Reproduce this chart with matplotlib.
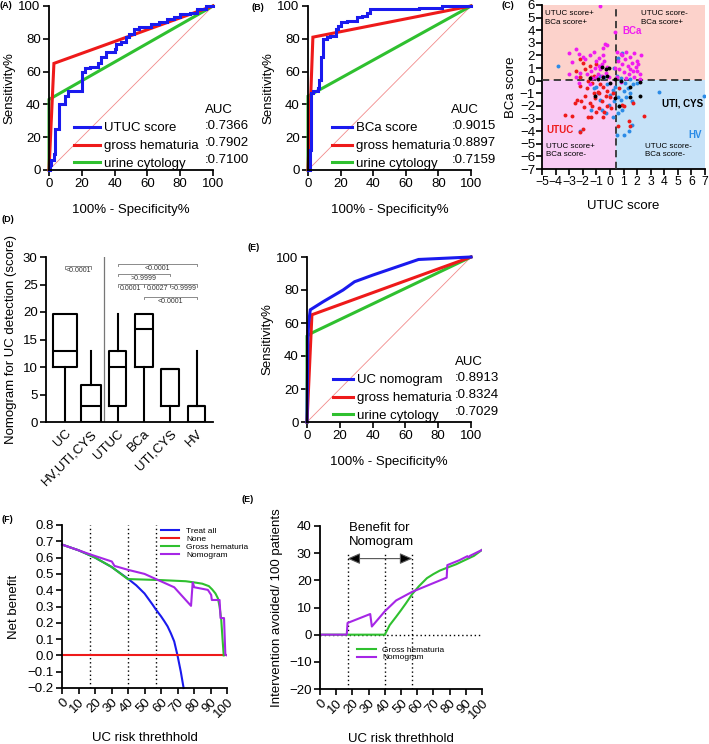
import numpy as np
import matplotlib
matplotlib.use('Agg')
import matplotlib.pyplot as plt

plt.rcParams['font.family'] = ['Liberation Sans', 'DejaVu Sans']
plt.rcParams['axes.linewidth'] = 1.3
plt.rcParams['xtick.major.width'] = 1.2
plt.rcParams['ytick.major.width'] = 1.2
plt.rcParams['xtick.major.size'] = 4
plt.rcParams['ytick.major.size'] = 4
plt.rcParams['xtick.major.pad'] = 2
plt.rcParams['ytick.major.pad'] = 2
plt.rcParams['font.size'] = 9.5

BLUE = '#1a1aee'
RED = '#ee1a1a'
GREEN = '#2fc02f'
PURPLE = '#a626e6'
DIAG = '#f28a8a'

# ---------------- (A) UTUC ROC ----------------
a_utuc_fpr = [0, 0.5, 0.5, 1.5, 1.5, 3, 3, 3.5, 3.5, 6, 6, 10, 10, 11.5, 11.5, 20, 20, 22, 22,
              25, 25, 30, 30, 32, 32, 35, 35, 40, 40, 41, 41, 44, 44, 47, 47, 49, 49, 52, 52,
              55, 55, 62, 62, 67, 67, 72, 72, 76, 76, 80, 80, 86, 86, 90, 90, 96, 96, 100]
a_utuc_tpr = [0, 0, 3, 3, 6, 6, 10, 10, 25, 25, 40, 40, 45, 45, 48, 48, 60, 60, 62,
              62, 63, 63, 65, 65, 69, 69, 72, 72, 74, 74, 77, 77, 78, 78, 81, 81, 83, 83, 86,
              86, 87, 87, 89, 89, 90, 90, 92, 92, 93, 93, 95, 95, 96, 96, 98, 98, 100, 100]
a_hema_fpr = [0, 3, 100]
a_hema_tpr = [0, 65, 100]
a_cyto_fpr = [0, 0, 100]
a_cyto_tpr = [0, 43, 100]
a_auc = [':0.7366', ':0.7902', ':0.7100']

# ---------------- (B) BCa ROC ----------------
b_bca_fpr = [0, 1, 1, 2, 2, 3, 3, 6, 6, 7, 7, 8, 8, 9.5, 9.5, 11.5, 11.5, 13.5, 13.5, 17, 17,
             18.5, 18.5, 20, 20, 24, 24, 30, 30, 33, 33, 36, 36, 38, 38, 68, 68, 82, 82, 100]
b_bca_tpr = [0, 0, 12, 12, 47, 47, 48, 48, 50, 50, 55, 55, 69, 69, 80, 80, 81, 81, 82, 82, 86,
             86, 88, 88, 90, 90, 91, 91, 93, 93, 94, 94, 96, 96, 98, 98, 99, 99, 100, 100]
b_hema_fpr = [0, 3, 100]
b_hema_tpr = [0, 81, 100]
b_cyto_fpr = [0, 0, 100]
b_cyto_tpr = [0, 45, 100]
b_auc = [':0.9015', ':0.8897', ':0.7159']

# ---------------- (E) nomogram ROC ----------------
e_nomo_fpr = [0, 0.5, 1, 2, 10, 22, 29, 40, 68, 100]
e_nomo_tpr = [0, 50, 60, 68, 73, 80, 85, 89, 98.5, 100]
e_hema_fpr = [0, 3, 100]
e_hema_tpr = [0, 65, 100]
e_cyto_fpr = [0, 0, 3, 100]
e_cyto_tpr = [0, 52, 54, 100]
e_auc = [':0.8913', ':0.8324', ':0.7029']

# ---------------- (C) scatter ----------------
c_bca_x = [-3.0, -2.5, -2.3, -2.8, -2.0, -1.8, -1.5, -1.2, -1.0, -0.8, -0.6, -0.5, -0.7, -0.9,
           -1.1, -1.4, -1.7, -2.2, -2.5, -3.0, -1.3, -0.3, -0.2, -0.4, -0.1, -0.34, -0.22, -0.71,
           -0.5, -0.8, -1.0, -0.6, 0.39, 0.5, 0.8, 1.2, 1.5, 1.8, 2.0, 2.3, 0.6, 0.9, 1.1, 1.3,
           1.6, 1.9, 2.1, 0.7, 1.0, 1.4, 1.7, 2.2, 0.5, 1.2, 1.8, 2.2, 0.4, 0.9, 1.5, 2.0, 0.8,
           -2.3, -1.5]
c_bca_y = [2.2, 2.5, 2.1, 1.5, 1.9, 1.7, 2.0, 2.3, 1.6, 1.8, 1.3, 2.0, 0.9, 0.5,
           1.0, 0.8, 0.5, 0.6, 0.3, 0.5, 0.2, 0.6, 1.1, 1.6, 0.3, 2.9, 2.8, 5.9,
           2.6, 1.2, 0.3, 0.4, 3.84, 2.3, 2.1, 2.3, 1.9, 2.2, 1.6, 2.0, 1.6, 1.3, 1.7, 1.2,
           1.4, 1.1, 1.3, 0.9, 0.7, 0.5, 0.8, 0.5, 0.3, 0.2, 0.3, 0.1, 1.0, 2.0, 0.9, 0.8, -0.1,
           -0.2, -0.3]
c_utuc_x = [-2.2, -2.0, -1.5, -1.8, -2.5, -1.2, -1.6, -1.0, -3.3, -2.8, -2.2, -2.0, -2.1, -2.4,
            -1.8, -1.5, -1.3, -1.6, -1.4, -1.0, -0.8, -0.6, -0.4, -0.2, 0.0, -0.2, -0.5, -0.9,
            -1.1, -1.7, -2.2, -1.3, -0.7, -0.3, 0.2, 0.1, -0.8, -1.2, -1.9, -2.6, -0.5, 0.9,
            1.0, 1.4, 1.5, 0.6, 2.5, 1.7, 0.7, -2.2, -1.4]
c_utuc_y = [1.7, 1.4, 1.2, 0.9, 0.8, 0.4, 0.0, 1.3, -2.7, -2.8, -4.1, -3.8, -1.6, -1.5,
            -1.2, -1.8, -2.0, -2.9, -2.9, -2.5, -2.2, -1.6, -2.5, -2.0, -1.3, -0.8, -0.5, -0.9,
            -1.4, -0.6, -0.4, -0.2, -0.3, -1.2, -1.0, -2.2, -1.0, -1.0, -2.1, -1.8, -2.9, -1.9,
            -2.0, -3.2, -3.6, -3.6, -2.8, -1.8, -0.6, 0.3, 0.3]
c_hv_x = [-3.8, -2.2, -2.18, -1.0, -0.9, -0.7, -0.6, -0.3, -0.1, 0.0, 0.2, 0.4, 0.6, 0.7, 0.8,
          1.0, 1.2, 1.3, 1.5, 1.7, 0.5, 1.0, 1.4, 1.6, 3.6, 6.9, 0.6, 0.3, 0.9, 0.2, 1.1, 0.5,
          0.8, 0.3, 0.6, 0.9, -0.4, -0.7, 1.5, -1.4, -1.2, 2.0, 1.6, -0.2]
c_hv_y = [1.2, 0.3, -4.0, -0.5, -1.0, -1.5, -2.3, -2.6, -1.9, -1.1, -0.7, -0.5, -1.3, -2.0, -1.5,
          -0.8, -1.3, -0.6, -1.0, -0.3, -4.3, -4.3, -4.0, -3.5, -0.9, -1.2, -2.6, -1.6, -2.3, -2.9,
          -0.2, 0.4, 0.2, 1.0, 1.8, 2.2, 0.3, 0.4, 0.1, -2.3, -0.6, -0.2, -1.6, -0.3]
c_cys_x = [-0.6, -0.3, -0.1, -0.5, -0.2, -1.5, 0.4, 0.8, 1.5, 2.2, 2.2, 1.5, 0.4, -1.1, 0.7,
           -0.9, 0.0]
c_cys_y = [1.1, 0.9, 1.0, 0.3, 0.4, 0.2, 0.1, 0.0, -0.5, -0.1, -1.2, -1.3, -1.4, -1.2, -2.0,
           0.1, -0.2]
c_cut_x = 0.45
c_cut_y = 0.06

# ---------------- (D) box plots ----------------
d_groups = ['UC', 'HV,UTI,CYS', 'UTUC', 'BCa', 'UTI,CYS', 'HV']
d_low = [0, 0, 0, 0, 0, 0]
d_q1 = [10, 0, 3, 10, 3, 0]
d_med = [13, 3, 10, 16.9, 9.7, 2.9]
d_q3 = [19.7, 6.7, 12.9, 19.7, 9.7, 2.9]
d_high = [19.7, 13, 19.7, 19.7, 9.7, 13]
d_pvals = [(0, 1, 28.4, '<0.0001'), (2, 5, 28.8, '<0.0001'), (2, 4, 27.0, '>0.9999'),
           (2, 3, 25.1, '0.0001'), (3, 4, 25.1, '0.0027'), (4, 5, 25.1, '>0.9999'),
           (3, 5, 22.8, '<0.0001')]

# ---------------- (F) decision curve ----------------
f_all_t = [0, 10, 20, 30, 40, 45, 50, 55, 57, 60, 62, 64, 66, 68, 70, 72, 73.7]
f_all_nb = [0.68, 0.645, 0.60, 0.543, 0.47, 0.43, 0.38, 0.31, 0.28, 0.24, 0.21, 0.178, 0.135,
            0.086, 0.0, -0.1, -0.2]
f_none_t = [0, 100]
f_none_nb = [0, 0]
f_hema_t = [0, 10, 17, 20, 30, 40, 41, 60, 75, 80, 85, 89, 91, 93, 94.5, 95.5, 96.5, 97.3, 98]
f_hema_nb = [0.68, 0.645, 0.614, 0.60, 0.543, 0.467, 0.468, 0.462, 0.455, 0.448, 0.44, 0.425,
             0.405, 0.38, 0.35, 0.30, 0.22, 0.10, 0.0]
f_nomo_t = [0, 10, 17, 30.2, 31.8, 40, 50, 57, 68, 78.2, 79.2, 80.2, 88.4, 90.4, 90.8, 95.5,
            96.1, 98.2, 99, 100]
f_nomo_nb = [0.68, 0.645, 0.62, 0.576, 0.549, 0.525, 0.50, 0.468, 0.418, 0.304, 0.447, 0.418,
             0.402, 0.371, 0.34, 0.34, 0.229, 0.229, 0.004, 0.0]
f_cuts = [17, 40, 57]

# ---------------- (E) interventions avoided ----------------
g_hema_t = [0, 40, 43, 47, 50, 53, 57, 61, 66, 70, 74, 80, 84, 90, 95, 100]
g_hema_v = [0, 0, 3.5, 6.6, 9, 11.5, 15, 17.8, 20.8, 22.3, 23.6, 25, 25.9, 27.6, 29, 31.2]
g_nomo_t = [0, 16.5, 17, 31, 32, 40, 47, 57, 66, 78.2, 78.6, 86, 91, 91.8, 92.5, 100]
g_nomo_v = [0, 0, 4.3, 7.6, 3.0, 8.6, 12.6, 15.8, 18, 21, 25.6, 27.4, 28.9, 28.4, 29.0, 31.2]

W, H = 709, 744


def box(x0, y0, x1, y1):
    return [x0 / W, 1 - y1 / H, (x1 - x0) / W, (y1 - y0) / H]


def minus(v):
    return str(v).replace('-', '\u2212')


def clean(ax):
    ax.spines['top'].set_visible(False)
    ax.spines['right'].set_visible(False)
    ax.tick_params(direction='out', labelsize=9.5)


def roc_panel(ax, curves, auc_vals, leg_x, auc_x, hlen):
    clean(ax)
    ax.plot([0, 100], [0, 100], color=DIAG, lw=0.6, zorder=1)
    handles = []
    for fpr, tpr, col, lab in curves[::-1]:
        ln, = ax.plot(fpr, tpr, color=col, lw=2.2, label=lab, clip_on=False,
                      solid_joinstyle='miter')
        handles.append(ln)
    ax.set_xlim(0, 100)
    ax.set_ylim(0, 100)
    ax.set_xticks(range(0, 101, 20))
    ax.set_yticks(range(0, 101, 20))
    ax.set_xlabel('100% - Specificity%', labelpad=10)
    ax.set_ylabel('Sensitivity%', labelpad=2)
    ax.legend(handles=handles[::-1], loc='lower left', bbox_to_anchor=(leg_x, 0.0),
              frameon=False, borderpad=0, borderaxespad=0, handlelength=hlen,
              handletextpad=0.3, labelspacing=0.42, fontsize=9.5)
    ax.text(auc_x, 0.366, 'AUC', transform=ax.transAxes, va='center', ha='left')
    for i, v in enumerate(auc_vals):
        ax.text(auc_x, 0.268 - i * 0.104, v, transform=ax.transAxes, va='center', ha='left')


fig = plt.figure(figsize=(W / 100, H / 100), dpi=100)

# (A)
axA = fig.add_axes(box(49, 6, 213, 170))
roc_panel(axA, [(a_utuc_fpr, a_utuc_tpr, BLUE, 'UTUC score'),
                (a_hema_fpr, a_hema_tpr, RED, 'gross hematuria'),
                (a_cyto_fpr, a_cyto_tpr, GREEN, 'urine cytology')],
          a_auc, 0.15, 0.95, 2.0)

# (B)
axB = fig.add_axes(box(308, 6, 471, 170))
roc_panel(axB, [(b_bca_fpr, b_bca_tpr, BLUE, 'BCa score'),
                (b_hema_fpr, b_hema_tpr, RED, 'gross hematuria'),
                (b_cyto_fpr, b_cyto_tpr, GREEN, 'urine cytology')],
          b_auc, 0.15, 0.88, 1.5)

# (E) ROC
axE = fig.add_axes(box(307, 257, 471, 422))
roc_panel(axE, [(e_nomo_fpr, e_nomo_tpr, BLUE, 'UC nomogram'),
                (e_hema_fpr, e_hema_tpr, RED, 'gross hematuria'),
                (e_cyto_fpr, e_cyto_tpr, GREEN, 'urine cytology')],
          e_auc, 0.16, 0.90, 1.5)

# (C)
axC = fig.add_axes(box(542, 5, 705, 169))
clean(axC)
axC.set_xlim(-5, 7)
axC.set_ylim(-7, 6)
axC.axhspan(c_cut_y, 6, color='#fcd2cb', lw=0, zorder=0)
axC.fill_between([-5, c_cut_x], -7, c_cut_y, color='#f8cbf4', lw=0, zorder=0)
axC.fill_between([c_cut_x, 7], -7, c_cut_y, color='#c6e2f8', lw=0, zorder=0)
axC.axvline(c_cut_x, color='#333333', ls=(0, (4, 2.5)), lw=1.3, zorder=3)
axC.axhline(c_cut_y, color='#333333', ls=(0, (4, 2.5)), lw=1.3, zorder=3)
axC.scatter(c_hv_x, c_hv_y, s=8, color='#2b8be6', lw=0, zorder=4)
axC.scatter(c_utuc_x, c_utuc_y, s=8, color='#ee1a1a', lw=0, zorder=4)
axC.scatter(c_bca_x, c_bca_y, s=8, color='#f01cf0', lw=0, zorder=4)
axC.scatter(c_cys_x, c_cys_y, s=8, color='black', lw=0, zorder=4)
axC.set_xticks(range(-5, 8))
axC.set_xticklabels([minus(v) for v in range(-5, 8)])
axC.set_yticks(range(-7, 7))
axC.set_yticklabels([minus(v) for v in range(-7, 7)])
axC.tick_params(axis='y', pad=1)
axC.tick_params(axis='x', pad=1, labelsize=8.8)
axC.set_xlabel('UTUC score', labelpad=9)
axC.set_ylabel('BCa score', labelpad=2)
qfs = 5.8
axC.text(-4.8, 5.6, 'UTUC score+\nBCa score+', fontsize=qfs, va='top', linespacing=1.3)
axC.text(2.3, 5.6, 'UTUC score-\nBCa score+', fontsize=qfs, va='top', linespacing=1.3)
axC.text(-4.7, -4.9, 'UTUC score+\nBCa score-', fontsize=qfs, va='top', linespacing=1.3)
axC.text(2.6, -4.9, 'UTUC score-\nBCa score-', fontsize=qfs, va='top', linespacing=1.3)
axC.text(0.9, 3.9, 'BCa', color='#f01cf0', fontsize=7, fontweight='bold', va='center')
axC.text(-4.7, -3.9, 'UTUC', color='#ee1a1a', fontsize=7, fontweight='bold', va='center')
axC.text(3.8, -1.8, 'UTI, CYS', color='black', fontsize=7, fontweight='bold', va='center')
axC.text(5.8, -4.3, 'HV', color='#2b8be6', fontsize=7, fontweight='bold', va='center')

# (D)
axD = fig.add_axes(box(46, 257, 213, 422))
clean(axD)
stats = []
for i, g in enumerate(d_groups):
    stats.append(dict(label=g, whislo=d_low[i], q1=d_q1[i], med=d_med[i], q3=d_q3[i],
                      whishi=d_high[i], fliers=[]))
d_widths = [0.88, 0.75, 0.62, 0.65, 0.68, 0.65]
axD.bxp(stats, positions=range(len(d_groups)), widths=d_widths, showcaps=False,
        showfliers=False,
        boxprops=dict(color='black', lw=1.5),
        whiskerprops=dict(color='black', lw=1.5),
        medianprops=dict(color='black', lw=1.5))
axD.set_xlim(-0.72, 5.62)
axD.set_ylim(0, 30)
axD.set_yticks(range(0, 31, 5))
axD.set_xticklabels(d_groups, rotation=45, ha='right', rotation_mode='anchor')
axD.tick_params(axis='x', length=0, pad=4)
axD.axvline(1.5, color='#777777', lw=0.9)
axD.set_ylabel('Nomogram for UC detection (score)', labelpad=4)
for x1, x2, y, lab in d_pvals:
    axD.plot([x1, x1, x2, x2], [y - 0.5, y, y, y - 0.5], color='#777777', lw=0.6)
    axD.text((x1 + x2) / 2, y - 0.25, lab, fontsize=5, color='#333333', ha='center', va='top')

# (F)
axF = fig.add_axes(box(62, 525, 227, 688))
clean(axF)
for c in f_cuts:
    axF.axvline(c, color='black', ls=(0, (1, 2)), lw=1.0, zorder=1)
axF.plot(f_all_t, f_all_nb, color='#1a1aee', lw=1.5, label='Treat all', clip_on=False)
axF.plot(f_none_t, f_none_nb, color='#ee1a1a', lw=1.5, label='None')
axF.plot(f_hema_t, f_hema_nb, color='#2fc02f', lw=1.5, label='Gross hematuria')
axF.plot(f_nomo_t, f_nomo_nb, color=PURPLE, lw=1.5, label='Nomogram')
axF.set_xlim(0, 100)
axF.set_ylim(-0.2, 0.8)
axF.set_xticks(range(0, 101, 10))
axF.set_xticklabels([str(v) for v in range(0, 101, 10)], rotation=45, ha='right',
                    rotation_mode='anchor')
axF.set_yticks(np.arange(-0.2, 0.81, 0.1))
axF.yaxis.set_major_formatter(plt.FuncFormatter(lambda v, p: minus('%.1f' % v)))
axF.set_ylabel('Net benefit', labelpad=5)
axF.set_xlabel('UC risk threthhold', labelpad=8)
axF.legend(loc='upper left', bbox_to_anchor=(0.6, 0.985), frameon=False, fontsize=6,
           handlelength=2.2, handletextpad=0.8, labelspacing=0.0, borderpad=0,
           borderaxespad=0)

# (E) interventions avoided
axG = fig.add_axes(box(320, 526, 482, 689))
clean(axG)
axG.axhline(0, color='black', ls=(0, (1, 2)), lw=1.0, zorder=1)
axG.vlines(f_cuts, -20, 30, color='black', linestyles=[(0, (1, 2))], lw=1.0, zorder=1)
axG.plot(g_hema_t, g_hema_v, color='#2fc02f', lw=1.5, label='Gross hematuria')
axG.plot(g_nomo_t, g_nomo_v, color=PURPLE, lw=1.5, label='Nomogram')
axG.annotate('', xy=(f_cuts[0], 28), xytext=(f_cuts[2], 28),
             arrowprops=dict(arrowstyle='<|-|>,head_length=0.8,head_width=0.35',
                             fc='black', ec='#555555', lw=0.8, shrinkA=0, shrinkB=0))
axG.text(18, 36.7, 'Benefit for\nNomogram', va='center', ha='left', fontsize=9.5)
axG.set_xlim(0, 100)
axG.set_ylim(-20, 40)
axG.set_xticks(range(0, 101, 10))
axG.set_xticklabels([str(v) for v in range(0, 101, 10)], rotation=45, ha='right',
                    rotation_mode='anchor')
axG.set_yticks(range(-20, 41, 10))
axG.set_yticklabels([minus(v) for v in range(-20, 41, 10)])
axG.set_ylabel('Intervention avoided/ 100 patients', labelpad=4)
axG.set_xlabel('UC risk threthhold', labelpad=8)
axG.legend(loc='upper left', bbox_to_anchor=(0.23, 0.265), frameon=False, fontsize=6,
           handlelength=2.2, handletextpad=0.8, labelspacing=0.0, borderpad=0,
           borderaxespad=0)

# panel letters
for x, y, t in [(0, 6, '(A)'), (252, 8, '(B)'), (502, 6, '(C)'), (1, 220, '(D)'),
                (247, 248, '(E)'), (1, 520, '(F)'), (241, 500, '(E)')]:
    fig.text(x / W, 1 - y / H, t, fontsize=6.5, fontweight='bold', va='center', ha='left')

fig.savefig('out.png', dpi=100)
